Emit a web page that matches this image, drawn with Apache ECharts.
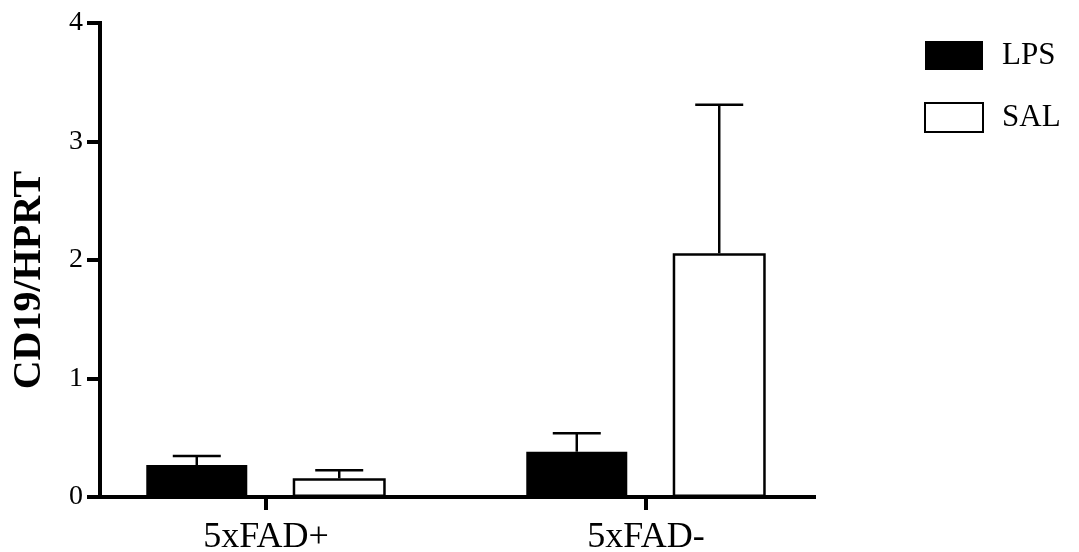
<!DOCTYPE html>
<html>
<head>
<meta charset="utf-8">
<script src="https://cdn.jsdelivr.net/npm/echarts@6/dist/echarts.min.js"></script>
<style>html,body{margin:0;padding:0;background:#fff}#c{width:1079px;height:552px}</style>
</head>
<body>
<div id="c"></div>
<script>
var categories = ['5xFAD+', '5xFAD-'];
var lpsMean = [0.27, 0.382];
var lpsSem = [0.076, 0.156];
var salMean = [0.158, 2.057];
var salSem = [0.067, 1.253];
var yTicks = [0, 1, 2, 3, 4];

var FONT = 'Liberation Serif';
var LPS_W = 101, SAL_W = 93, GAP = 0.45;
var totalW = LPS_W * (1 + GAP) + SAL_W;
var lpsOff = -totalW / 2 + LPS_W / 2;
var salOff = -totalW / 2 + LPS_W * (1 + GAP) + SAL_W / 2;

function errSeries(name, mean, sem, off) {
  return {
    type: 'custom', name: name + ' err', xAxisIndex: 1, yAxisIndex: 1, z: 5,
    data: mean.map(function (m, i) { return [i, m, m + sem[i]]; }),
    renderItem: function (params, api) {
      var b = api.coord([api.value(0), api.value(1)]);
      var t = api.coord([api.value(0), api.value(2)]);
      var x = b[0] + off;
      var st = { stroke: '#000', lineWidth: 2.5 };
      return { type: 'group', children: [
        { type: 'line', shape: { x1: x, y1: b[1], x2: x, y2: t[1] }, style: st },
        { type: 'line', shape: { x1: x - 24, y1: t[1], x2: x + 24, y2: t[1] }, style: st }
      ]};
    }
  };
}

var chart = echarts.init(document.getElementById('c'));
chart.setOption({
  animation: false,
  backgroundColor: '#fff',
  legend: {
    data: ['LPS', 'SAL'], orient: 'vertical', left: 919, top: 35,
    icon: 'rect',
    itemWidth: 58, itemHeight: 29, itemGap: 31,
    textStyle: { fontFamily: FONT, fontSize: 31, color: '#000', padding: [0, 0, 0, 14] }
  },
  grid: [
    { left: 100, right: 265, top: 23, bottom: 55, containLabel: false, outerBoundsMode: 'none' },
    { left: 76, right: 243, top: 23, bottom: 55, containLabel: false, outerBoundsMode: 'none' }
  ],
  xAxis: [
    { type: 'value', gridIndex: 0, min: 0, max: 1,
      axisLine: { show: true, lineStyle: { color: '#000', width: 4, cap: 'square' } },
      axisTick: { show: false }, axisLabel: { show: false }, splitLine: { show: false } },
    { type: 'category', gridIndex: 1, data: categories,
      axisLine: { show: false },
      axisTick: { show: true, alignWithLabel: true, length: 13, lineStyle: { color: '#000', width: 4 } },
      axisLabel: { fontFamily: FONT, fontSize: 36, color: '#000', margin: 23 } }
  ],
  yAxis: [
    { type: 'value', gridIndex: 0, min: yTicks[0], max: yTicks[yTicks.length - 1], interval: 1,
      name: 'CD19/HPRT', nameLocation: 'middle', nameGap: 50,
      nameTextStyle: { fontFamily: FONT, fontSize: 40, fontWeight: 'bold', color: '#000', padding: [0, 40, 0, 0] },
      axisLine: { show: true, lineStyle: { color: '#000', width: 4, cap: 'square' } },
      axisTick: { show: true, length: 13, lineStyle: { color: '#000', width: 4 } },
      axisLabel: { fontFamily: FONT, fontSize: 28, color: '#000', margin: 17 },
      splitLine: { show: false } },
    { type: 'value', gridIndex: 1, min: yTicks[0], max: yTicks[yTicks.length - 1], interval: 1, show: false,
      splitLine: { show: false } }
  ],
  series: [
    { type: 'scatter', xAxisIndex: 0, yAxisIndex: 0, data: [], silent: true },
    { type: 'bar', name: 'LPS', xAxisIndex: 1, yAxisIndex: 1, data: lpsMean, barWidth: LPS_W, barGap: (GAP * 100) + '%',
      itemStyle: { color: '#000' } },
    { type: 'bar', name: 'SAL', xAxisIndex: 1, yAxisIndex: 1, data: salMean, barWidth: SAL_W, barGap: (GAP * 100) + '%',
      itemStyle: { color: '#fff', borderColor: '#000', borderWidth: 2.5 } },
    errSeries('LPS', lpsMean, lpsSem, lpsOff),
    errSeries('SAL', salMean, salSem, salOff)
  ]
});
</script>
</body>
</html>
